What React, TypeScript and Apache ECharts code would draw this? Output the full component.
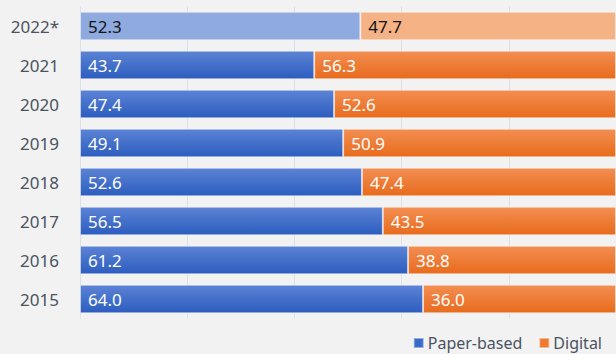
import React, { useEffect, useRef } from "react";
import * as echarts from "echarts";

const categories = ["2015", "2016", "2017", "2018", "2019", "2020", "2021", "2022*"];
const paperValues = [64.0, 61.2, 56.5, 52.6, 49.1, 47.4, 43.7, 52.3];
const digitalValues = [36.0, 38.8, 43.5, 47.4, 50.9, 52.6, 56.3, 47.7];
const seriesNames = ["Paper-based", "Digital"];
const estimateCategory = "2022*";

const FONT = "'Noto Sans', 'DejaVu Sans', sans-serif";

const blueGrad = () =>
  new echarts.graphic.LinearGradient(0, 0, 0, 1, [
    { offset: 0, color: "#5c83d5" },
    { offset: 1, color: "#2c5dbf" },
  ]);
const orangeGrad = () =>
  new echarts.graphic.LinearGradient(0, 0, 0, 1, [
    { offset: 0, color: "#f38e52" },
    { offset: 1, color: "#e86b1c" },
  ]);

export default function App() {
  const ref = useRef<HTMLDivElement>(null);
  useEffect(() => {
    document.body.style.margin = "0";
    document.body.style.background = "#f2f2f2";
    if (!ref.current) return;
    const chart = echarts.init(ref.current, undefined, { renderer: "svg" });
    const mk = (vals: number[], grad: any, light: string) =>
      vals.map((v, i) => {
        const est = categories[i] === estimateCategory;
        return {
          value: v,
          itemStyle: { color: est ? light : grad },
          label: { color: est ? "#141414" : "#ffffff" },
        };
      });
    const labelCfg = {
      show: true,
      position: "insideLeft",
      distance: 8,
      fontFamily: FONT,
      fontSize: 17,
      formatter: (p: any) => Number(p.value).toFixed(1),
    };
    chart.setOption({
      animation: false,
      backgroundColor: "#f2f2f2",
      textStyle: { fontFamily: FONT },
      grid: { left: 80, top: 6.5, height: 312, width: 540, containLabel: false },
      xAxis: {
        type: "value",
        min: 0,
        max: 100,
        interval: 20,
        axisLabel: { show: false },
        axisLine: { show: false },
        axisTick: { show: false },
        splitLine: { show: true, lineStyle: { color: "#dde0e7", width: 1 } },
      },
      yAxis: {
        type: "category",
        data: categories,
        axisLine: { show: false },
        axisTick: { show: false },
        axisLabel: { color: "#4b5361", fontSize: 17, fontFamily: FONT, margin: 21 },
      },
      legend: {
        data: seriesNames,
        right: 14,
        top: 335,
        padding: 0,
        itemWidth: 10,
        itemHeight: 10,
        itemGap: 16,
        icon: "rect",
        textStyle: { color: "#4b5361", fontSize: 16, fontFamily: FONT, padding: [0, 0, 0, -1] },
      },
      series: [
        {
          name: seriesNames[0],
          type: "bar",
          stack: "total",
          barWidth: 28.5,
          color: "#3a6bc8",
          itemStyle: { borderColor: "rgba(255,255,255,0.45)", borderWidth: 1 },
          label: labelCfg,
          data: mk(paperValues, blueGrad(), "#8eaadf"),
        },
        {
          name: seriesNames[1],
          type: "bar",
          stack: "total",
          barWidth: 28.5,
          color: "#ee7a30",
          itemStyle: { borderColor: "rgba(255,255,255,0.45)", borderWidth: 1 },
          label: labelCfg,
          data: mk(digitalValues, orangeGrad(), "#f4b285"),
        },
      ],
    });
    return () => chart.dispose();
  }, []);
  return <div ref={ref} style={{ width: 616, height: 354 }} />;
}
